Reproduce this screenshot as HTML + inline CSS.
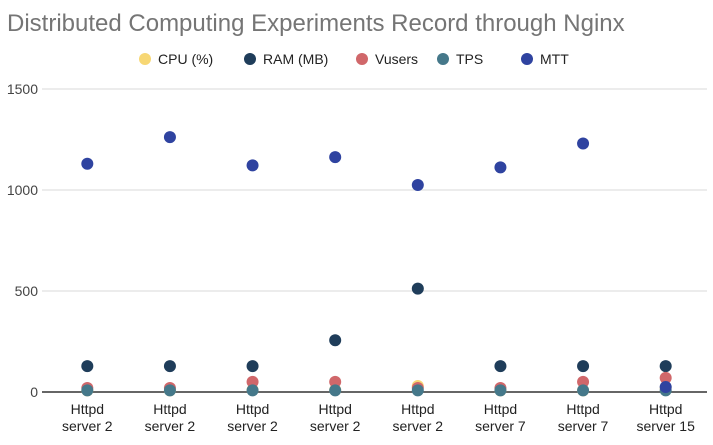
<!DOCTYPE html>
<html><head><meta charset="utf-8"><style>
body{margin:0;background:#fff;font-family:"Liberation Sans",Arial,sans-serif}
</style></head><body>
<svg id="c" width="713" height="440" xmlns="http://www.w3.org/2000/svg">
<text x="7" y="31" font-size="24" fill="#757575">Distributed Computing Experiments Record through Nginx</text>
<g id="legend"></g>
<g id="grid"></g><g id="marks"></g><g id="xl"></g>
</svg>
<script>
const categories=["Httpd|server 2","Httpd|server 2","Httpd|server 2","Httpd|server 2","Httpd|server 2","Httpd|server 7","Httpd|server 7","Httpd|server 15"];
const cpu=[8,8,10,10,30,8,8,20];
const ram=[128,128,128,256,512,128,128,128];
const vusers=[20,20,50,50,20,20,50,70];
const tps=[8,8,8,8,8,8,8,8];
const mtt=[1130,1262,1122,1163,1025,1112,1230,25];
const yTicks=[0,500,1000,1500];
const seriesNames=["CPU (%)","RAM (MB)","Vusers","TPS","MTT"];
const seriesColors=["#f7d774","#1f3d5a","#d0676a","#45788a","#2f43a0"];
const seriesData=[cpu,ram,vusers,tps,mtt];
const NS="http://www.w3.org/2000/svg";
const L=46,R=707,T=89,B=392;
const y=v=>B-(v/1500)*(B-T);
const x=i=>L+(i+0.5)*(R-L)/categories.length;
function el(t,a,p){const e=document.createElementNS(NS,t);for(const k in a)e.setAttribute(k,a[k]);document.getElementById(p).appendChild(e);return e;}
yTicks.forEach(t=>{
 const g=el('line',{x1:L-4,x2:R,y1:y(t),y2:y(t),stroke:t?'#d9d9d9':'#333','stroke-width':t?1:1.5},'grid');
 
 
 const tx=el('text',{x:L-8,y:y(t)+5,'text-anchor':'end','font-size':14,fill:'#444'},'grid');tx.textContent=t;
 
 
});
categories.forEach((c,i)=>{
 const p=c.split('|');
 p.forEach((s,j)=>{const t=el('text',{x:x(i),y:414+j*17,'text-anchor':'middle','font-size':14,fill:'#222'},'xl');t.textContent=s;
 
 });
});
seriesData.forEach((d,s)=>{
 d.forEach((v,i)=>{const c=el('circle',{cx:x(i),cy:y(v),r:6,fill:seriesColors[s]},'marks');
 
 });
});
const lx=[145,250,362,443,527];
seriesNames.forEach((n,s)=>{
 const c=el('circle',{cx:lx[s],cy:59,r:6,fill:seriesColors[s]},'legend');
 
 
 const t=el('text',{x:lx[s]+13,y:64,'font-size':14,fill:'#222'},'legend');t.textContent=n;
 
 
});
</script>
</body></html>
